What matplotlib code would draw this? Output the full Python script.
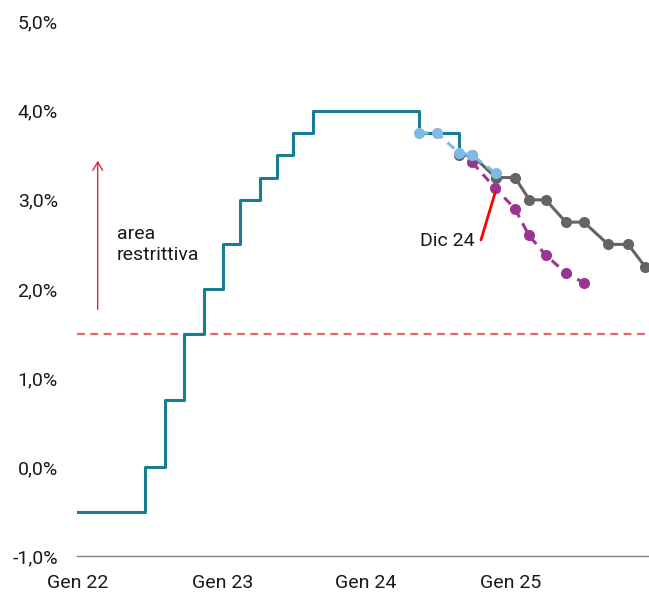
import numpy as np
import matplotlib
matplotlib.use("Agg")
import matplotlib.pyplot as plt
import pandas as pd

plt.rcParams['font.family'] = ['Roboto', 'DejaVu Sans']

# tasso sui depositi BCE (a gradini)
dfr_dates = pd.to_datetime(["2022-02-08", "2022-07-27", "2022-09-14", "2022-11-02",
                            "2022-12-21", "2023-02-08", "2023-03-22", "2023-05-10",
                            "2023-06-21", "2023-08-02", "2023-09-20", "2024-06-12",
                            "2024-09-18"])
dfr_vals = [-0.5, 0.0, 0.75, 1.5, 2.0, 2.5, 3.0, 3.25, 3.5, 3.75, 4.0, 3.75, 3.5]

# aspettative di mercato (prima)
blue_dates = pd.to_datetime(["2024-06-12", "2024-07-26", "2024-09-18", "2024-10-22", "2024-12-20"])
blue_vals = [3.75, 3.75, 3.53, 3.50, 3.30]

# aspettative grigie
gray_dates = pd.to_datetime(["2024-09-18", "2024-10-22", "2024-12-20", "2025-02-06",
                             "2025-03-14", "2025-04-24", "2025-06-13", "2025-07-28",
                             "2025-09-27", "2025-11-16", "2025-12-28"])
gray_vals = [3.5, 3.5, 3.25, 3.25, 3.0, 3.0, 2.75, 2.75, 2.5, 2.5, 2.25]

# aspettative Dic 24
purple_dates = pd.to_datetime(["2024-10-22", "2024-12-19", "2025-02-06", "2025-03-13",
                               "2025-04-24", "2025-06-13", "2025-07-28"])
purple_vals = [3.42, 3.13, 2.90, 2.60, 2.38, 2.18, 2.07]

neutral_rate = 1.5

ytick_vals = [-1, 0, 1, 2, 3, 4, 5]
ytick_labels = ["-1,0%", "0,0%", "1,0%", "2,0%", "3,0%", "4,0%", "5,0%"]
xtick_dates = pd.to_datetime(["2022-02-09", "2023-02-06", "2024-01-31", "2025-01-26"])
xtick_labels = ["Gen 22", "Gen 23", "Gen 24", "Gen 25"]

fig = plt.figure(figsize=(6.49, 5.94), dpi=100)
ax = fig.add_axes([0.1191, 0.0635, 0.8809, 0.9001])

ax.axhline(neutral_rate, color='#e8646c', lw=1.6, dashes=(3.5, 2.5), zorder=1)

ax.plot(dfr_dates, dfr_vals, drawstyle='steps-post', color='#177d92', lw=2.2, zorder=2)

ax.plot(purple_dates, purple_vals, color='#9b3593', lw=2.2, dashes=(3, 2.2),
        marker='o', ms=8, mec='none', zorder=3)
ax.plot(gray_dates, gray_vals, color='#646464', lw=2.2,
        marker='o', ms=8, mec='none', zorder=4)
ax.plot(blue_dates, blue_vals, color='#80b8e6', lw=2.2, dashes=(3, 2.2),
        marker='o', ms=8, mec='none', zorder=5)

ax.set_xlim(pd.Timestamp("2022-02-08"), pd.Timestamp("2026-01-07"))
ax.set_ylim(-1, 5)

ax.set_yticks(ytick_vals)
ax.set_yticklabels(ytick_labels)
ax.set_xticks(xtick_dates)
ax.set_xticklabels(xtick_labels)
ax.tick_params(axis='both', length=0, labelsize=14, colors='#1a1a1a')
ax.tick_params(axis='y', pad=14)
ax.tick_params(axis='x', pad=13)

for s in ['top', 'right', 'left']:
    ax.spines[s].set_visible(False)
ax.spines['bottom'].set_color('#808080')
ax.spines['bottom'].set_linewidth(1.0)

# freccia area restrittiva
ax.annotate('', xy=(pd.Timestamp("2022-03-31"), 3.44), xytext=(pd.Timestamp("2022-03-31"), 1.77),
            arrowprops=dict(arrowstyle='->,head_length=0.6,head_width=0.35', color='#e82430', lw=1.0,
                            shrinkA=0, shrinkB=0))
ax.text(pd.Timestamp("2022-05-18"), 2.50, "area\nrestrittiva", fontsize=14, color='#1a1a1a',
        ha='left', va='center', linespacing=1.2)

# Dic 24
ax.text(pd.Timestamp("2024-06-13"), 2.54, "Dic 24", fontsize=14, color='#1a1a1a',
        ha='left', va='center')
ax.annotate('', xy=(pd.Timestamp("2024-12-19"), 3.09), xytext=(pd.Timestamp("2024-11-13"), 2.55),
            arrowprops=dict(arrowstyle='-', color='#ff0000', lw=2.0, shrinkA=0, shrinkB=0))

fig.savefig("out.png", dpi=100)
